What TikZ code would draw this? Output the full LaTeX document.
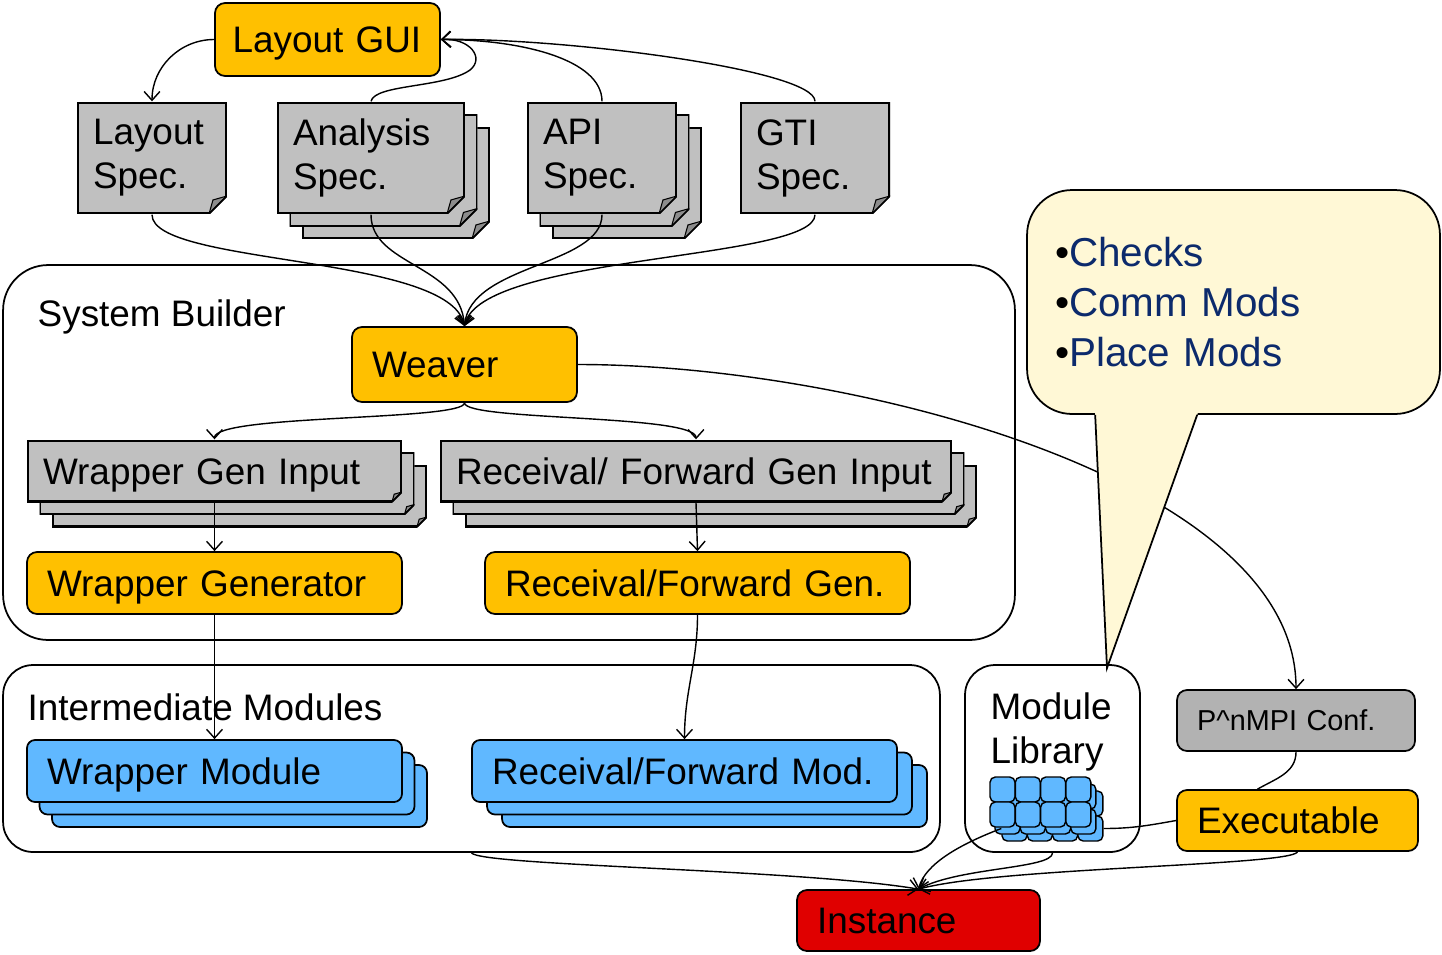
\documentclass[tikz,border=0pt]{standalone}
\usepackage{fontspec}
\setmainfont{Liberation Sans}
\usetikzlibrary{arrows.meta,calc}

\definecolor{toolorange}{HTML}{FFC000}
\definecolor{specgray}{HTML}{C0C0C0}
\definecolor{foldgray}{HTML}{8C8C8C}
\definecolor{confgray}{HTML}{B2B2B2}
\definecolor{modblue}{HTML}{60B8FF}
\definecolor{instred}{HTML}{E00000}
\definecolor{notefill}{HTML}{FFF8D6}
\definecolor{notetext}{HTML}{0C2A6C}

\tikzset{
  every node/.style={font=\fontsize{21}{25}\selectfont},
  oneline/.style={text height=15pt, text depth=0pt},
  groupbox/.style={rectangle, draw=black, line width=1pt, fill=white, inner sep=0pt, rounded corners=0.6cm},
  toolbox/.style={rectangle, draw=black, line width=1pt, fill=toolorange, rounded corners=0.2cm, inner xsep=0.4cm, align=left, minimum height=1.24cm, oneline},
  modbox/.style={toolbox, fill=modblue, rounded corners=0.16cm},
  specdoc/.style={rectangle, inner xsep=0.32cm, align=left,
    path picture={
      \fill[specgray] (path picture bounding box.north west) -- (path picture bounding box.north east)
        -- ([yshift=#1]path picture bounding box.south east) -- ([xshift=-#1]path picture bounding box.south east)
        -- (path picture bounding box.south west) -- cycle;
      \draw[draw=black, line width=2pt] ([yshift=#1]path picture bounding box.south east)
        -- (path picture bounding box.north east) -- (path picture bounding box.north west)
        -- (path picture bounding box.south west) -- ([xshift=-#1]path picture bounding box.south east);
      \filldraw[fill=foldgray, draw=black, line width=0.6pt] ([yshift=#1]path picture bounding box.south east)
        -- ([xshift=-#1]path picture bounding box.south east)
        -- ([xshift=-0.78*#1, yshift=0.78*#1]path picture bounding box.south east) -- cycle;
      \draw[draw=black, line width=1pt] ([yshift=#1]path picture bounding box.south east)
        -- ([xshift=-#1]path picture bounding box.south east);
    }},
  specdoc/.default=0.36cm,
  libcell/.style={rectangle, draw=black, line width=0.8pt, fill=modblue, rounded corners=3pt, inner sep=0pt, minimum size=0.5cm},
  notebox/.style={rectangle, draw=black, line width=1pt, fill=notefill, rounded corners=0.9cm, minimum width=8.26cm, minimum height=4.48cm, inner xsep=0.56cm, text width=7.14cm, align=left, text=notetext, font=\fontsize{23}{28.5}\selectfont}
}

\begin{document}
\begin{tikzpicture}[x=0.02cm, y=-0.02cm, line width=0.8pt, >={Straight Barb[length=5pt,width=9pt]}]
    \useasboundingbox (0,0) rectangle (1442,954);

    % Containers
    \node[groupbox, minimum width=20.24cm, minimum height=7.5cm, rounded corners=0.9cm] (sysb) at (509,452.5) {};
    \node[groupbox, minimum width=18.74cm, minimum height=3.74cm] (imods) at (471.5,758.5) {};
    \node[groupbox, minimum width=3.5cm, minimum height=3.74cm] (mlib) at (1052.5,758.5) {};
    \node[anchor=base west, inner sep=0pt] (sblabel) at (37,326) {System Builder};
    \node[anchor=base west, inner sep=0pt] (imlabel) at (27,720) {Intermediate Modules};
    \node[anchor=north west, inner sep=0pt, align=left] (mliblabel) at (990,692) {Module\\Library};

    % Top row
    \node[toolbox, inner xsep=0.35cm, text width=3.8cm, minimum height=1.46cm] (gui) at (327.5,39.5) {Layout GUI};
    \node[specdoc, text width=2.36cm, minimum height=2.24cm] (lspec) at (152,158) {Layout\\Spec.};
    \foreach \k in {2,1}
        \node[specdoc, text width=3.12cm, minimum height=2.24cm] (aspec\k) at (371+12.5*\k,158+12.5*\k) {};
    \node[specdoc, text width=3.12cm, minimum height=2.24cm] (aspec) at (371,158) {Analysis\\Spec.};
    \foreach \k in {2,1}
        \node[specdoc, text width=2.36cm, minimum height=2.24cm] (pspec\k) at (602+12.5*\k,158+12.5*\k) {};
    \node[specdoc, text width=2.36cm, minimum height=2.24cm] (pspec) at (602,158) {API\\Spec.};
    \node[specdoc, text width=2.36cm, minimum height=2.24cm] (gspec) at (815,158) {GTI\\Spec.};

    % System builder
    \node[toolbox, text width=3.7cm, minimum height=1.5cm] (weaver) at (464.5,364.5) {Weaver};
    \foreach \k in {2,1} {
        \node[specdoc=0.2cm, text width=6.86cm, minimum height=1.24cm] (wgin\k) at (214.5+12.5*\k,471+12.5*\k) {};
        \node[specdoc=0.2cm, text width=9.6cm, minimum height=1.24cm] (rgin\k) at (696+12.5*\k,471+12.5*\k) {};
    }
    \node[specdoc=0.2cm, oneline, text width=6.86cm, minimum height=1.24cm] (wgin) at (214.5,471) {Wrapper Gen Input};
    \node[specdoc=0.2cm, oneline, text width=9.6cm, minimum height=1.24cm] (rgin) at (696,471) {Receival/ Forward Gen Input};
    \node[toolbox, text width=6.7cm] (wgen) at (214.5,583) {Wrapper Generator};
    \node[toolbox, text width=7.7cm] (rgen) at (697.5,583) {Receival/Forward Gen.};

    % Intermediate modules
    \foreach \k in {2,1} {
        \node[modbox, text width=6.7cm] (wmod\k) at (214.5+12.5*\k,771+12.5*\k) {};
        \node[modbox, text width=7.7cm] (rmod\k) at (684.5+15*\k,771+12.5*\k) {};
    }
    \node[modbox, text width=6.7cm] (wmod) at (214.5,771) {Wrapper Module};
    \node[modbox, text width=7.7cm] (rmod) at (684.5,771) {Receival/Forward Mod.};

    % Module library icon
    \foreach \l/\dx/\dy in {2/12/14, 1/5/7, 0/0/0}
        \foreach \r in {0,1}
            \foreach \c in {0,...,3}
                \node[libcell] (lib\l\r\c) at (1002.5+25.3*\c+\dx,789.5+25*\r+\dy) {};

    % Right column
    \node[toolbox, fill=confgray, text width=3.96cm, minimum height=1.22cm, text height=11.7pt, font=\fontsize{16.4}{20}\selectfont] (pconf) at (1296,720.5) {P\textasciicircum nMPI Conf.};
    \node[toolbox, text width=4.02cm, minimum height=1.22cm] (exe) at (1297.5,820.5) {Executable};
    \node[toolbox, fill=instred, text width=4.06cm, minimum height=1.22cm] (inst) at (918.5,920.5) {Instance};

    % GUI and specs
    \draw[->] (gui.west) to[out=180,in=90] (lspec.north);
    \draw[->] (aspec.north) .. controls (375,84) and (445,88) .. (470,70) .. controls (485,58) and (470,38) .. (gui.east);
    \draw[->] (pspec.north) .. controls +(0,-42) and +(80,0) .. (gui.east);
    \draw[->] (gspec.north) .. controls +(0,-32) and +(120,-2) .. (gui.east);

    \draw[->] (lspec.south) .. controls +(0,51) and +(-14.5,-72) .. (weaver.north);
    \draw[->] (aspec.south) .. controls +(0,51) and +(-4.5,-62) .. (weaver.north);
    \draw[->] (pspec.south) .. controls +(0,51) and +(5.5,-62) .. (weaver.north);
    \draw[->] (gspec.south) .. controls +(0,46) and +(15.5,-72) .. (weaver.north);

    % Builder flow
    \draw[->] (weaver.south) .. controls +(0,18) and +(0,-25) .. (wgin.north);
    \draw[->] (weaver.south) .. controls +(0,18) and +(0,-25) .. (rgin.north);
    \draw[->] (wgin.south) -- (wgen.north);
    \draw[->] (rgin.south) -- (rgen.north);
    \draw[->] (wgen.south) -- (wmod.north);
    \draw[->] (rgen.south) to[out=-90,in=90] (rmod.north);
    \draw[->] (weaver.east) .. controls +(273,0) and +(0,-210) .. (pconf.north);
    \draw (pconf.south) to[out=-90,in=30] ([xshift=-0.8cm]exe.north);
    \draw (lib213.east) to[out=0,in=190] (exe.west);

    % Into the instance
    \draw[->] (imods.south) .. controls +(8.5,13) and +(-118.5,-20) .. (inst.north);
    \draw[->] (lib210.west) .. controls +(-42,16) and +(6.5,-25) .. (inst.north);
    \draw[->] (mlib.south) .. controls +(0,16) and +(41.5,-22) .. (inst.north);
    \draw[->] (exe.south) .. controls +(-7.5,14) and +(81.5,-22) .. (inst.north);

    % Callout
    \node[notebox] (note) at (1233.5,302) {{\color{black}•}Checks\\{\color{black}•}Comm Mods\\{\color{black}•}Place Mods};
    \coordinate (tip) at (1107,668);
    \fill[notefill] ($(note.south west)+(68.8,-4)$) -- ($(note.south west)+(172.4,-4)$) -- (tip) -- cycle;
    \draw[line width=1pt] ($(note.south west)+(69,0)$) -- (tip) -- ($(note.south west)+(171,0)$);
\end{tikzpicture}
\end{document}
